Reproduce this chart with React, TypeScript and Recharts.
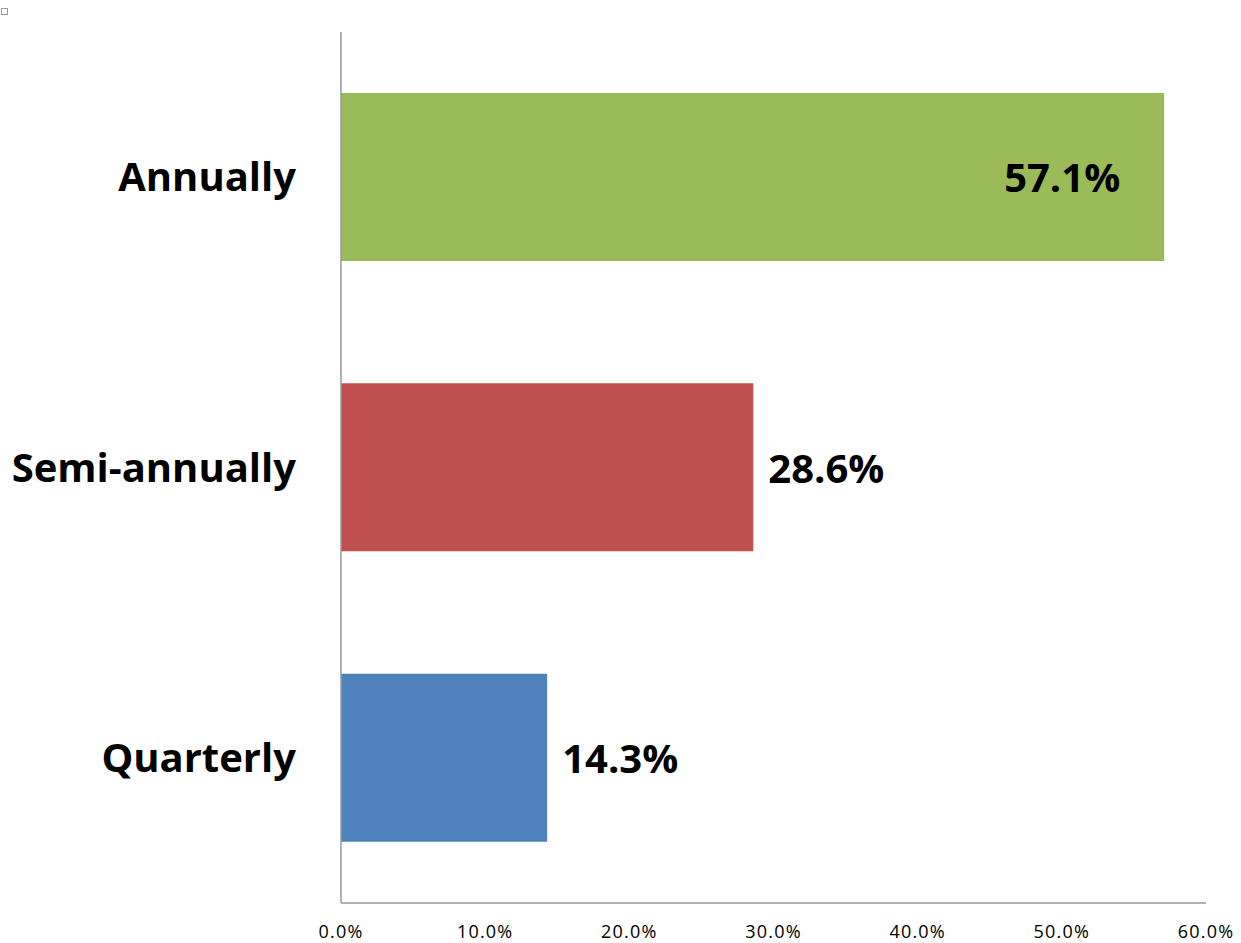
import { Bar, BarChart, Cell, LabelList, XAxis, YAxis } from "recharts";

const categories = ["Annually", "Semi-annually", "Quarterly"];
const shares = [57.1, 28.6, 14.3];
const barColors = ["#9BBB59", "#C0504D", "#4F81BD"];
const xTicks = [0, 10, 20, 30, 40, 50, 60];

const data = categories.map((name, i) => ({ name, share: shares[i] }));

const FONT = "'Open Sans', sans-serif";

// Big bar gets its label tucked inside the end; the short ones sit just past it.
function ValueLabel(props: any) {
  const { x, y, width, height, value } = props;
  const inside = value > 50;
  const tx = inside ? x + width - 44 : x + width + 15;
  return (
    <text
      x={tx}
      y={y + height / 2}
      textAnchor={inside ? "end" : "start"}
      dominantBaseline="central"
      fontFamily={FONT}
      fontWeight={700}
      fontSize={40}
      fill="#000"
    >
      {`${value.toFixed(1)}%`}
    </text>
  );
}

export default function App() {
  return (
    <div style={{ position: "absolute", left: 0, top: 0, width: 1241, height: 943, background: "#fff" }}>
      <div
        style={{
          position: "absolute",
          left: 1,
          top: 8,
          width: 5,
          height: 5,
          border: "1px solid #999",
        }}
      />
      <BarChart
        width={1241}
        height={943}
        data={data}
        layout="vertical"
        margin={{ top: 32, right: 35, bottom: 0, left: 0 }}
        barCategoryGap="21%"
      >
        <XAxis
          type="number"
          domain={[0, 60]}
          ticks={xTicks}
          tickFormatter={(v: number) => `${v.toFixed(1)}%`}
          tickLine={false}
          tickSize={0}
          tickMargin={22}
          height={40}
          stroke="#999"
          strokeWidth={1.5}
          tick={{ fontSize: 18, fill: "#000", fontFamily: FONT, letterSpacing: 1.2 }}
          interval={0}
        />
        <YAxis
          type="category"
          dataKey="name"
          width={341}
          tickLine={false}
          tickSize={0}
          tickMargin={45}
          stroke="#999"
          strokeWidth={1.5}
          tick={{ fontSize: 40, fontWeight: 700, fill: "#000", fontFamily: FONT }}
        />
        <Bar dataKey="share" isAnimationActive={false}>
          {data.map((d, i) => (
            <Cell key={d.name} fill={barColors[i]} />
          ))}
          <LabelList dataKey="share" content={ValueLabel} />
        </Bar>
      </BarChart>
    </div>
  );
}
